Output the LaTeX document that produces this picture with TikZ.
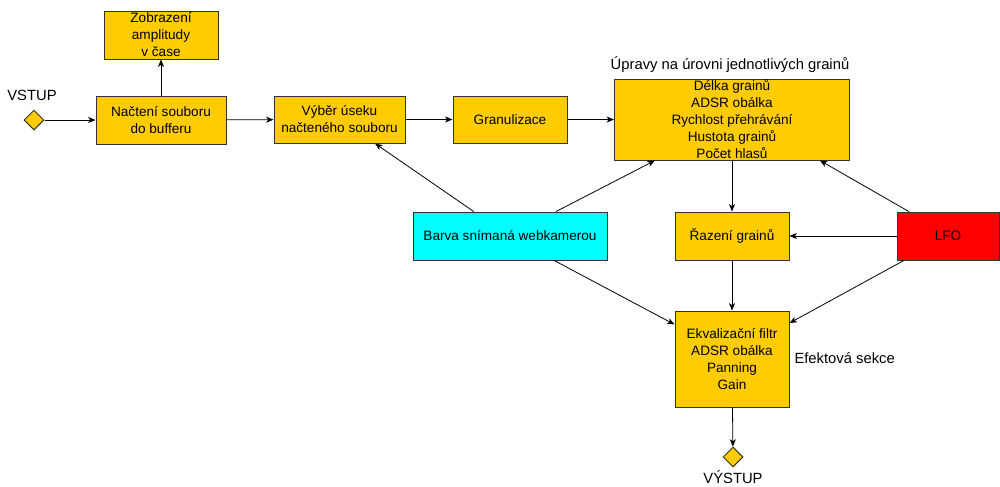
\documentclass[tikz,border=0pt]{standalone}
\usepackage{fontspec}
\setmainfont{Liberation Sans}
\usetikzlibrary{arrows.meta,shapes.geometric}

\definecolor{zluta}{RGB}{255,204,0}
\definecolor{azurova}{RGB}{0,255,255}
\definecolor{cervena}{RGB}{255,0,0}
\definecolor{okraj}{RGB}{51,51,51}

\tikzset{every picture/.style={line width=0.75pt}}
\tikzset{
  blok/.style={draw=okraj, fill=zluta, align=center, inner sep=1pt,
    font=\fontsize{10.2}{12.75}\selectfont},
  vrchol/.style={diamond, draw=okraj, fill=zluta, inner sep=0pt,
    minimum width=15pt, minimum height=15pt},
  popis/.style={inner sep=0.75pt, font=\fontsize{11.1}{13}\selectfont},
  sipka/.style={-{Stealth[length=5.5pt,width=4.5pt,inset=1.5pt]}, line width=0.6pt}
}

\begin{document}
\begin{tikzpicture}[x=0.75pt,y=0.75pt,yscale=-1,xscale=1]
				\useasboundingbox (0,0) rectangle (1000,486);
				%Shape: Diamond [id:vstup]
				\node [vrchol] (vstup) at (34,120) {};
				%Shape: Rectangle [id:nacteni]
				\node [blok, minimum width=97.5pt, minimum height=36pt] (nacteni) at (161,120) {Načtení souboru\\do bufferu};
				%Shape: Rectangle [id:zobrazeni]
				\node [blok, minimum width=85.5pt, minimum height=36pt] (zobrazeni) at (161,35) {Zobrazení\\amplitudy\\v čase};
				%Shape: Rectangle [id:vyber]
				\node [blok, minimum width=98.25pt, minimum height=35.25pt] (vyber) at (339.5,119.5) {Výběr úseku\\načteného souboru};
				%Shape: Rectangle [id:granulizace]
				\node [blok, minimum width=85.5pt, minimum height=35.25pt] (granulizace) at (510,119.5) {Granulizace};
				%Shape: Rectangle [id:upravy]
				\node [blok, minimum width=176.25pt, minimum height=60.75pt, inner sep=0pt] (upravy) at (732,119.5) {Délka grainů\\ADSR obálka\\Rychlost přehrávání\\Hustota grainů\\Počet hlasů};
				%Shape: Rectangle [id:barva]
				\node [blok, fill=azurova, minimum width=145.5pt, minimum height=36pt] (barva) at (510,236) {Barva snímaná webkamerou};
				%Shape: Rectangle [id:razeni]
				\node [blok, minimum width=85.5pt, minimum height=36pt] (razeni) at (732,236) {Řazení grainů};
				%Shape: Rectangle [id:lfo]
				\node [blok, fill=cervena, minimum width=76.5pt, minimum height=36pt] (lfo) at (948,236) {LFO};
				%Shape: Rectangle [id:efekty]
				\node [blok, minimum width=85.5pt, minimum height=72pt] (efekty) at (732,359) {Ekvalizační filtr\\ADSR obálka\\Panning\\Gain};
				%Shape: Diamond [id:vystup]
				\node [vrchol] (vystup) at (733,457) {};

				%Straight Lines
				\draw [sipka] (vstup) -- (nacteni);
				\draw [sipka] (nacteni) -- (zobrazeni);
				\draw [sipka] (nacteni) -- (vyber);
				\draw [sipka] (vyber) -- (granulizace);
				\draw [sipka] (granulizace) -- (upravy);
				\draw [sipka] (barva.146) -- (vyber.326);
				\draw [sipka] (barva.28) -- (upravy.208);
				\draw [sipka] (barva.331) -- (efekty.149);
				\draw [sipka] (upravy) -- (razeni);
				\draw [sipka] (lfo.148) -- (upravy.335);
				\draw [sipka] (lfo) -- (razeni);
				\draw [sipka] (lfo.209) -- (efekty.32);
				\draw [sipka] (razeni) -- (efekty);
				\draw [sipka] (efekty) -- (vystup);

				% Text Node
				\node [popis] (vstuptext) at (32,95) {VSTUP};
				% Text Node
				\node [popis] (upravytext) at (730,65) {Úpravy na úrovni jednotlivých grainů};
				% Text Node
				\node [popis, anchor=west] (efektytext) at (793,358) {Efektová sekce};
				% Text Node
				\node [popis] (vystuptext) at (733,477) {VÝSTUP};
			\end{tikzpicture}
\end{document}
